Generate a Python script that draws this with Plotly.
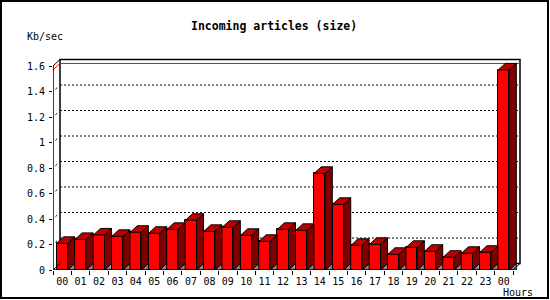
import plotly.graph_objects as go

# ---- data ----
hours = ["00", "01", "02", "03", "04", "05", "06", "07", "08", "09", "10", "11",
         "12", "13", "14", "15", "16", "17", "18", "19", "20", "21", "22", "23", "00"]
kbsec = [0.209, 0.240, 0.275, 0.264, 0.296, 0.288, 0.319, 0.390, 0.303, 0.335, 0.272, 0.225,
         0.319, 0.311, 0.758, 0.515, 0.194, 0.201, 0.123, 0.178, 0.147, 0.100, 0.131, 0.139, 1.569]
y_ticks = [0, 0.2, 0.4, 0.6, 0.8, 1.0, 1.2, 1.4, 1.6]
y_tick_text = ["0", "0.2", "0.4", "0.6", "0.8", "1", "1.2", "1.4", "1.6"]
title_text = "Incoming articles (size)"
y_title = "Kb/sec"
x_title = "Hours"

# ---- geometry (pixel layout) ----
W, H = 550, 300
PX_L, PX_R = 53, 522          # plot area left/right pixels
PX_T, PX_B = 58, 270          # plot area top/bottom pixels
N = len(hours)
px_per_cat = (513 - PX_L) / N
px_per_unit = 127.5
DX = 7 / px_per_cat            # 3D depth in x units
DY = 6.5 / px_per_unit         # 3D depth in y units
BW = 0.6                       # bar width (category units)
YMAX = y_ticks[-1]
xr = [0, (PX_R - PX_L) / px_per_cat]
yr = [0, (PX_B - PX_T) / px_per_unit]

FONT = "DejaVu Sans Mono"
RED, TOP, SIDE, GRAY = "#ff0000", "#c00000", "#800000", "#8c8c8c"

centers = [i + 0.5 for i in range(N)]

fig = go.Figure()

# front faces
fig.add_trace(go.Bar(x=centers, y=kbsec, width=BW,
                     marker=dict(color=RED, line=dict(color="black", width=1)),
                     hoverinfo="skip", showlegend=False))

def polys(pts_list):
    xs, ys = [], []
    for pts in pts_list:
        for p in pts + [pts[0]]:
            xs.append(p[0]); ys.append(p[1])
        xs.append(None); ys.append(None)
    return xs, ys

tops, sides, shadows = [], [], []
for c, v in zip(centers, kbsec):
    x0, x1 = c - BW / 2, c + BW / 2
    tops.append([(x0, v), (x1, v), (x1 + DX, v + DY), (x0 + DX, v + DY)])
    sides.append([(x1, 0), (x1, v), (x1 + DX, v + DY), (x1 + DX, DY)])
    shadows.append([(x1, 0), (x1 + DX, DY), (x1 + DX, 0)])

for pl, col in ((shadows, GRAY), (sides, SIDE), (tops, TOP)):
    xs, ys = polys(pl)
    fig.add_trace(go.Scatter(x=xs, y=ys, mode="lines", fill="toself", fillcolor=col,
                             line=dict(color="black", width=1),
                             hoverinfo="skip", showlegend=False))

shapes = []
# back wall
shapes.append(dict(type="rect", xref="x", yref="y", x0=DX, x1=N + DX, y0=DY, y1=YMAX + DY,
                   fillcolor="white", line=dict(color="black", width=1.5), layer="below"))
# grid lines on back wall
for t in y_ticks[1:-1]:
    shapes.append(dict(type="line", xref="x", yref="y", x0=DX, x1=N + DX, y0=t + DY, y1=t + DY,
                       line=dict(color="black", width=1, dash="2px,2px"), layer="below"))
    shapes.append(dict(type="line", xref="x", yref="y", x0=DX * 0.35, x1=DX * 0.6,
                       y0=t + DY * 0.35, y1=t + DY * 0.6,
                       line=dict(color="black", width=1), layer="below"))
# max value line (red)
vmax = max(kbsec)
shapes.append(dict(type="line", xref="x", yref="y", x0=DX, x1=N + DX, y0=vmax + DY, y1=vmax + DY,
                   line=dict(color="red", width=1), layer="below"))
shapes.append(dict(type="line", xref="x", yref="y", x0=0, x1=DX, y0=vmax, y1=vmax + DY,
                   line=dict(color="red", width=1), layer="below"))
# front y axis and diagonals
shapes.append(dict(type="line", xref="x", yref="y", x0=0, x1=0, y0=0, y1=YMAX,
                   line=dict(color="black", width=1.5)))
shapes.append(dict(type="line", xref="x", yref="y", x0=0, x1=DX, y0=YMAX, y1=YMAX + DY,
                   line=dict(color="black", width=1)))
shapes.append(dict(type="line", xref="x", yref="y", x0=0, x1=DX, y0=0, y1=DY,
                   line=dict(color="black", width=1)))
# x axis and floor right diagonal
shapes.append(dict(type="line", xref="x", yref="y", x0=0, x1=N, y0=0, y1=0,
                   line=dict(color="black", width=1.5)))
shapes.append(dict(type="line", xref="x", yref="y", x0=N, x1=N + DX, y0=0, y1=DY,
                   line=dict(color="black", width=1)))
# outer frame
def px2paper_x(px):
    return (px - PX_L) / (PX_R - PX_L)
def px2paper_y(py):
    return (PX_B - py) / (PX_B - PX_T)
shapes.append(dict(type="rect", xref="paper", yref="paper",
                   x0=px2paper_x(1), x1=px2paper_x(548), y0=px2paper_y(298), y1=px2paper_y(1),
                   line=dict(color="black", width=2)))

annotations = [
    dict(text=y_title, xref="paper", yref="paper", x=px2paper_x(45), y=px2paper_y(37),
         xanchor="center", yanchor="middle", showarrow=False,
         font=dict(family=FONT, size=10, color="black")),
    dict(text=x_title, xref="paper", yref="paper", x=px2paper_x(518), y=px2paper_y(292),
         xanchor="center", yanchor="middle", showarrow=False,
         font=dict(family=FONT, size=10, color="black")),
    dict(text="<b>" + title_text + "</b>", xref="paper", yref="paper",
         x=px2paper_x(274), y=px2paper_y(26.5), xanchor="center", yanchor="middle",
         showarrow=False, font=dict(family=FONT, size=11.5, color="black")),
]

fig.update_layout(
    width=W, height=H,
    margin=dict(l=PX_L, r=W - PX_R, t=PX_T, b=H - PX_B, pad=0),
    paper_bgcolor="white", plot_bgcolor="white",
    shapes=shapes, annotations=annotations,
    bargap=0, barmode="overlay",
    xaxis=dict(range=xr, showgrid=False, zeroline=False, showline=False, fixedrange=True,
               tickmode="array", tickvals=centers, ticktext=hours, ticks="",
               ticklabelstandoff=4,
               tickfont=dict(family=FONT, size=10, color="black"),
               minor=dict(tickmode="array", tickvals=list(range(N + 1)), ticks="outside",
                          ticklen=4, tickcolor="black", tickwidth=1, showgrid=False)),
    yaxis=dict(range=yr, showgrid=False, zeroline=False, showline=False, fixedrange=True,
               tickmode="array", tickvals=y_ticks, ticktext=y_tick_text, ticks="outside",
               ticklen=3, tickcolor="black", tickwidth=1, ticklabelstandoff=2,
               tickfont=dict(family=FONT, size=10, color="black")),
)

fig.write_html("out.html", config=dict(displayModeBar=False))
